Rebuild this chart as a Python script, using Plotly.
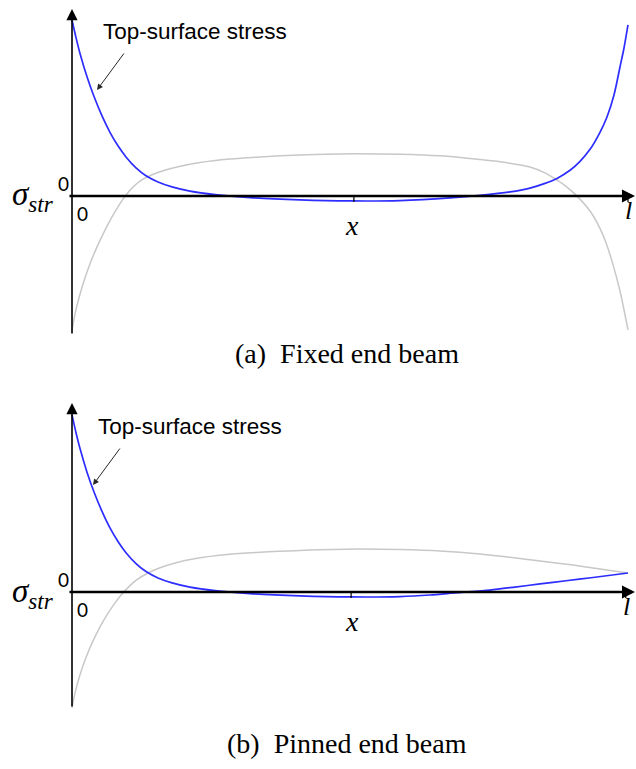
import plotly.graph_objects as go

W, H = 636, 769

# ---- stress profiles along the beam (x normalised by span l, stress in arbitrary units) ----
# (a) fixed end beam
fixed_top_x = [0, 0.0072, 0.0144, 0.027, 0.0396, 0.054, 0.0683, 0.0827, 0.0971, 0.1151, 0.1331,
               0.1547, 0.1799, 0.2122, 0.2572, 0.3201, 0.4101, 0.5, 0.5899, 0.6799, 0.7338, 0.7878,
               0.8237, 0.8507, 0.8723, 0.8957, 0.9137, 0.9317, 0.9496, 0.9622, 0.9748, 0.9856, 0.9928, 1.0]
fixed_top_s = [1.0, 0.900, 0.810, 0.677, 0.565, 0.455, 0.362, 0.285, 0.222, 0.160, 0.115,
               0.080, 0.052, 0.028, 0.008, -0.009, -0.022, -0.028, -0.026, -0.011, 0.003, 0.023,
               0.045, 0.072, 0.100, 0.146, 0.197, 0.265, 0.362, 0.449, 0.574, 0.733, 0.841, 0.972]

fixed_bot_x = [0, 0.0072, 0.0198, 0.0324, 0.045, 0.0576, 0.0683, 0.0791, 0.0917, 0.1043, 0.1223,
               0.1529, 0.1888, 0.2302, 0.2842, 0.3381, 0.4101, 0.5, 0.5899, 0.6619, 0.7338, 0.7824,
               0.8237, 0.8507, 0.8723, 0.8885, 0.9065, 0.9317, 0.9442, 0.9586, 0.973, 0.9856, 1.0]
fixed_bot_s = [-0.761, -0.645, -0.500, -0.385, -0.289, -0.205, -0.140, -0.080, -0.018, 0.033, 0.085,
               0.132, 0.165, 0.190, 0.210, 0.222, 0.233, 0.240, 0.237, 0.228, 0.207, 0.189,
               0.165, 0.131, 0.090, 0.055, 0.005, -0.085, -0.150, -0.250, -0.390, -0.540, -0.761]

# (b) pinned end beam
pinned_top_x = [0, 0.0072, 0.0144, 0.027, 0.0396, 0.054, 0.0683, 0.0827, 0.0971, 0.1151, 0.1331,
                0.1547, 0.1799, 0.2122, 0.2572, 0.3201, 0.4101, 0.5, 0.5899, 0.6439, 0.6924,
                0.7518, 0.7968, 0.8417, 0.8885, 0.9335, 1.0]
pinned_top_s = [1.006, 0.905, 0.815, 0.681, 0.568, 0.458, 0.364, 0.287, 0.223, 0.161, 0.116,
                0.080, 0.052, 0.028, 0.008, -0.009, -0.022, -0.028, -0.026, -0.017, -0.004,
                0.011, 0.028, 0.046, 0.064, 0.081, 0.108]

pinned_bot_x = [0, 0.0054, 0.0144, 0.0252, 0.0378, 0.0504, 0.0629, 0.0755, 0.0899, 0.1043, 0.1169,
                0.1367, 0.1583, 0.1888, 0.2176, 0.2788, 0.3381, 0.4101, 0.5126, 0.5899, 0.6619,
                0.7338, 0.7824, 0.8417, 0.9011, 0.9496, 1.0]
pinned_bot_s = [-0.659, -0.575, -0.470, -0.372, -0.278, -0.198, -0.130, -0.070, -0.012, 0.036, 0.070,
                0.108, 0.138, 0.168, 0.188, 0.213, 0.226, 0.236, 0.244, 0.241, 0.233,
                0.216, 0.199, 0.176, 0.153, 0.131, 0.108]

# axis tick positions (mid-span and span end) per panel
ticks_a = [0.507, 1.0]
ticks_b = [0.502, 0.996]

captions = ["(a)\u00a0\u00a0Fixed end beam", "(b)\u00a0\u00a0Pinned end beam"]
curve_label = "Top-surface stress"

BLUE = "rgb(45,45,255)"
GREY = "rgb(200,200,200)"

fig = go.Figure()


def add_curve(xs, ys, color, width, xa, ya):
    fig.add_trace(go.Scatter(x=xs, y=ys, mode="lines", xaxis=xa, yaxis=ya,
                             line=dict(color=color, width=width, shape="spline", smoothing=0.8),
                             hoverinfo="skip", showlegend=False))


add_curve(fixed_bot_x, fixed_bot_s, GREY, 1.5, "x", "y")
add_curve(fixed_top_x, fixed_top_s, BLUE, 1.7, "x", "y")
add_curve(pinned_bot_x, pinned_bot_s, GREY, 1.5, "x2", "y2")
add_curve(pinned_top_x, pinned_top_s, BLUE, 1.7, "x2", "y2")

# pixel scale: 556 px per unit span, 176 px per stress unit
xr = [-72 / 556, (W - 72) / 556]
fig.update_layout(
    width=W, height=H, margin=dict(l=0, r=0, t=0, b=0),
    paper_bgcolor="white", plot_bgcolor="white",
    xaxis=dict(domain=[0, 1], range=xr, visible=False, anchor="y"),
    yaxis=dict(domain=[0.5, 1], range=[-(H / 2 - 196) / 176, 196 / 176], visible=False, anchor="x"),
    xaxis2=dict(domain=[0, 1], range=xr, visible=False, anchor="y2"),
    yaxis2=dict(domain=[0, 0.5], range=[-(H - 592) / 176, (592 - H / 2) / 176], visible=False, anchor="x2"),
)


def px(x):
    return x / W


def py(y):
    return 1 - y / H


ann = []
shapes = []


def axes(xa, ya, y_lo, y_hi, ticks):
    # vertical stress axis with arrow
    ann.append(dict(x=0, y=y_hi, ax=0, ay=y_lo, xref=xa, yref=ya, axref=xa, ayref=ya,
                    text="", showarrow=True, arrowhead=2, arrowsize=1.4, arrowwidth=1.6,
                    arrowcolor="black"))
    # horizontal x axis with arrow
    ann.append(dict(x=563 / 556, y=0, ax=-4 / 556, ay=0, xref=xa, yref=ya, axref=xa, ayref=ya,
                    text="", showarrow=True, arrowhead=2, arrowsize=1.0, arrowwidth=2.6,
                    arrowcolor="black"))
    for t in ticks:
        shapes.append(dict(type="line", xref=xa, yref=ya, x0=t, x1=t, y0=0, y1=-6 / 176,
                           line=dict(color="black", width=1.2)))


axes("x", "y", -139 / 176, 187 / 176, ticks_a)
axes("x2", "y2", -116 / 176, 189 / 176, ticks_b)

MATH = "Liberation Serif"
NUM = "Lato"


def text(x, y, s, size, family, xanchor="center", color="black"):
    ann.append(dict(x=px(x), y=py(y), xref="paper", yref="paper", text=s, showarrow=False,
                    xanchor=xanchor, yanchor="middle",
                    font=dict(size=size, family=family, color=color)))


for dy, cap, lbl_y, tip, xl, lx in [(0, captions[0], 32, (97, 90), 101, 628),
                                     (396, captions[1], 426, (93, 485), 96, 626)]:
    axis_y = 196 + dy
    text(10, axis_y + 1, "<i>σ<sub>str</sub></i>", 33, MATH, xanchor="left")
    text(63, axis_y - 13, "0", 19, NUM)
    text(82, axis_y + 17, "0", 19, NUM)
    text(352, axis_y + 29, "<i>x</i>", 28, MATH)
    text(lx, axis_y + 14, "<i>l</i>", 26, MATH)
    text(xl, lbl_y, curve_label, 22.5, "Liberation Sans", xanchor="left")
    ann.append(dict(x=px(tip[0]), y=py(tip[1]), xref="paper", yref="paper", text="",
                    showarrow=True, ax=28, ay=-38, arrowhead=2, arrowsize=1.2, arrowwidth=1,
                    arrowcolor="rgb(40,40,40)"))
    text(347, 353 + dy * 0.985, cap, 28, "Liberation Serif")

fig.update_layout(annotations=ann, shapes=shapes)

fig.write_html("out.html", config={"displayModeBar": False})
